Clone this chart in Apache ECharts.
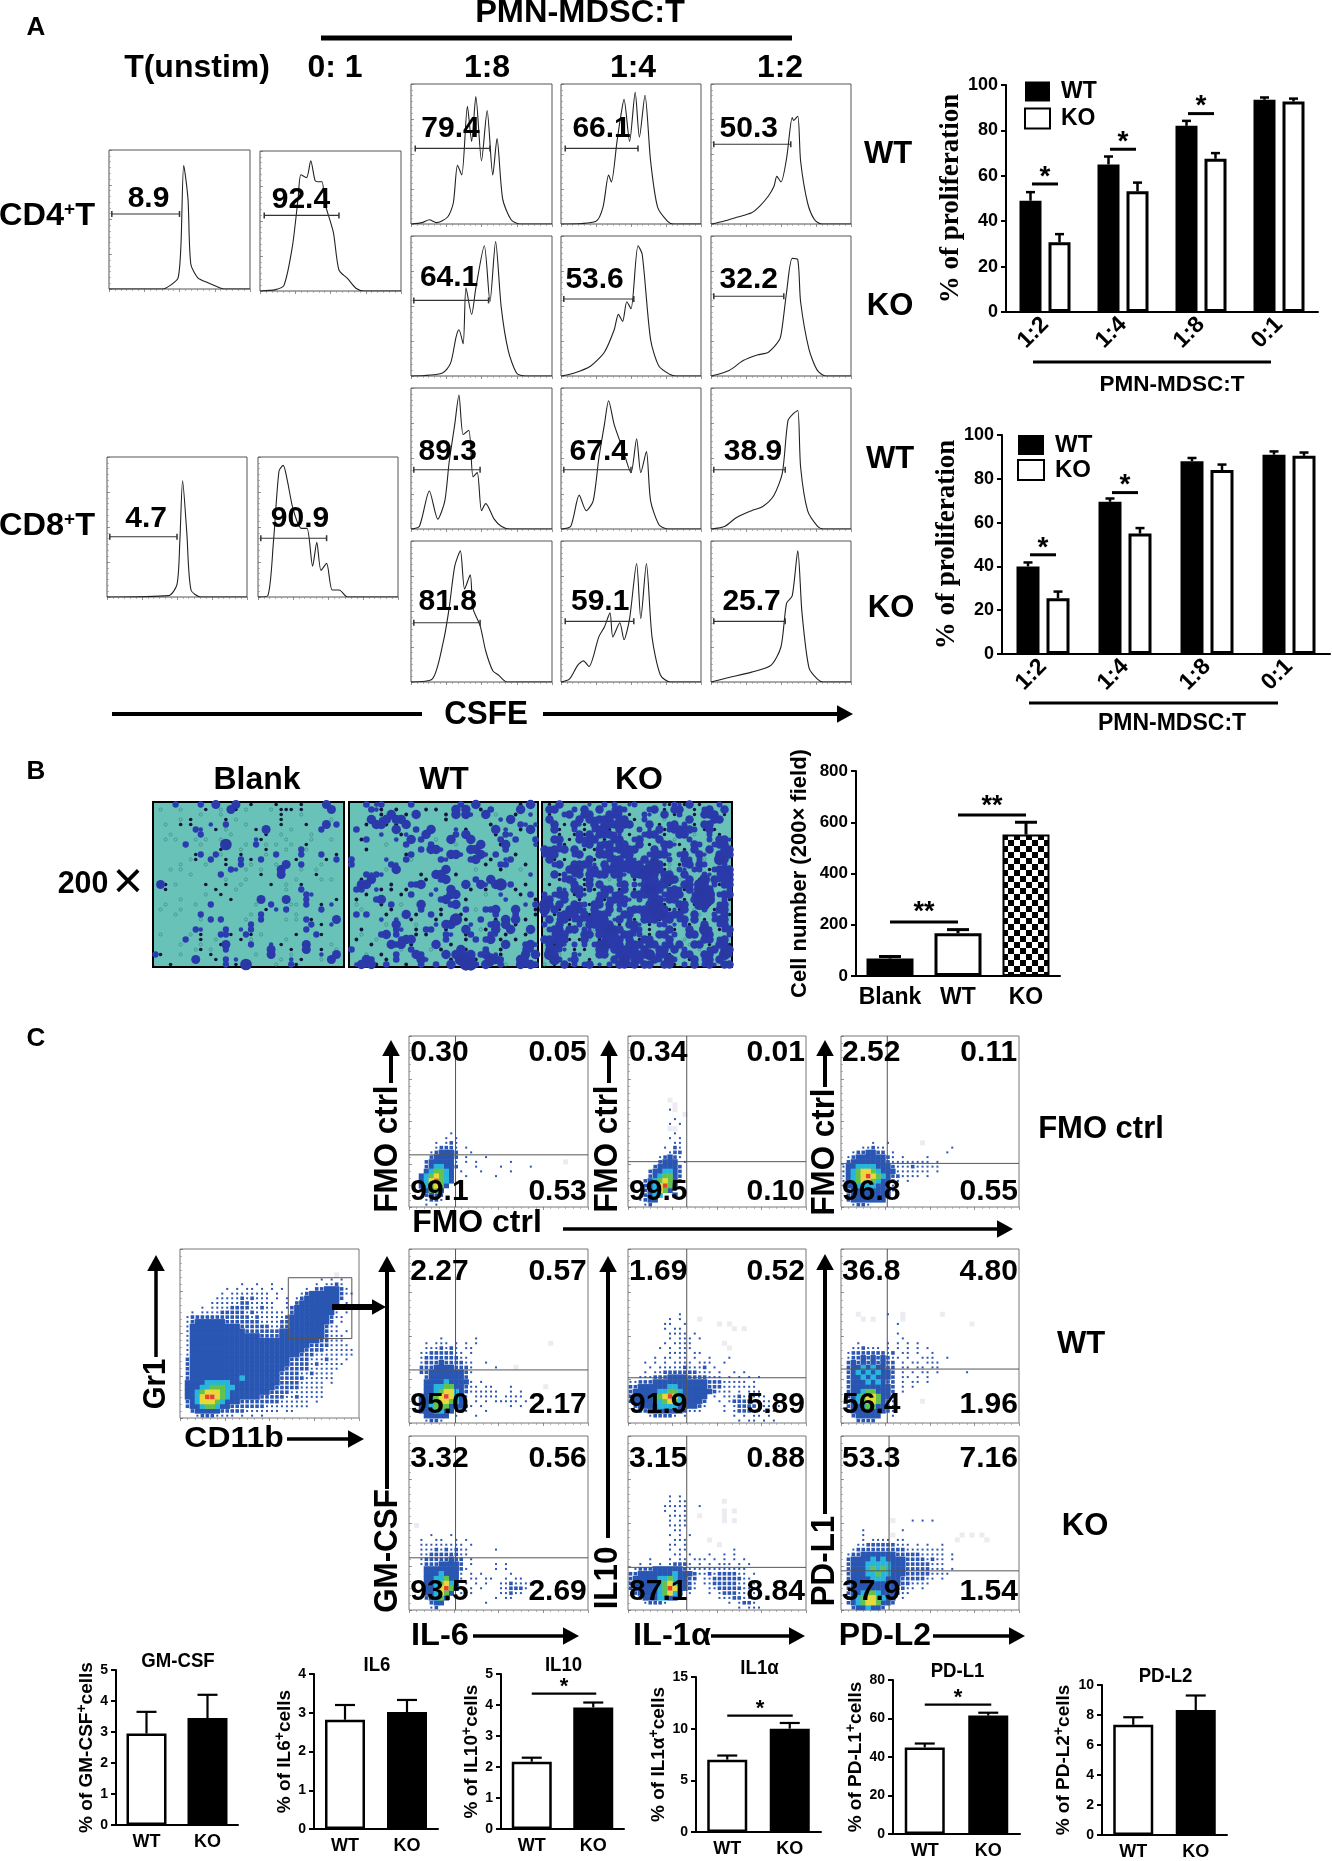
<!DOCTYPE html>
<html>
<head>
<meta charset="utf-8">
<title>PMN-MDSC</title>
<script src="https://cdn.jsdelivr.net/npm/echarts@6/dist/echarts.min.js"></script>
<style>
html,body{margin:0;padding:0;background:#fff}
#chart{width:1332px;height:1861px}
</style>
</head>
<body>
<div id="chart"></div>
<script>
/* ---------- panel A: CFSE histograms, [x %, height %] ---------- */
var histCd4Unstim = [[0,0],[38,0],[44,3],[49,8],[51,31],[53,89],[56,65],[58,18],[63,8],[69,5],[76,2],[82,0],[100,0]];
var histCd4Stim = [[0,0],[11,1],[17,4],[23,32],[27,66],[29,83],[33,81],[36,93],[39,79],[41,78],[44,78],[46,63],[52,42],[56,15],[62,9],[68,2],[74,0],[100,0]];
var histCd8Unstim = [[0,0],[44,1],[50,9],[52,39],[54,83],[57,46],[60,5],[67,0],[100,0]];
var histCd8Stim = [[0,0],[7,1],[11,39],[15,90],[18,94],[21,83],[25,63],[31,49],[35,49],[39,22],[42,39],[45,19],[49,24],[53,5],[58,5],[64,0],[100,0]];
var histCd4Wt18 = [[0,0],[8,1],[13,3],[18,1],[26,5],[30,15],[33,42],[36,35],[40,84],[43,59],[46,91],[50,45],[54,81],[58,35],[61,61],[65,18],[71,3],[77,0],[100,0]];
var histCd4Wt14 = [[0,0],[25,2],[30,12],[34,35],[36,30],[40,59],[43,79],[45,89],[49,59],[53,94],[56,62],[60,92],[64,45],[69,12],[76,2],[80,0],[100,0]];
var histCd4Wt12 = [[0,0],[9,2],[19,5],[29,8],[35,13],[41,20],[45,27],[47,34],[50,30],[54,47],[58,76],[59,74],[62,77],[64,45],[69,15],[74,3],[79,0],[100,0]];
var histCd4Ko18 = [[0,0],[22,2],[28,9],[32,28],[34,33],[37,23],[39,63],[43,44],[46,63],[52,93],[56,53],[60,96],[64,49],[69,18],[75,2],[81,0],[100,0]];
var histCd4Ko14 = [[0,0],[9,2],[21,7],[31,17],[38,33],[41,44],[44,39],[47,53],[50,48],[55,93],[58,87],[64,26],[70,7],[78,1],[82,0],[100,0]];
var histCd4Ko12 = [[0,0],[13,4],[23,11],[33,15],[41,17],[49,26],[51,36],[54,60],[58,84],[62,83],[64,53],[70,19],[76,4],[82,0],[100,0]];
var histCd8Wt18 = [[0,0],[6,2],[13,27],[19,7],[24,20],[27,47],[31,74],[34,95],[37,67],[41,70],[44,37],[47,40],[50,13],[53,18],[59,7],[64,2],[70,0],[100,0]];
var histCd8Wt14 = [[0,0],[7,2],[13,24],[18,13],[23,20],[27,50],[31,74],[34,91],[38,74],[44,57],[50,40],[54,64],[57,40],[61,55],[64,20],[70,3],[76,0],[100,0]];
var histCd8Wt12 = [[0,0],[10,2],[18,8],[29,13],[37,16],[45,24],[51,40],[55,77],[59,82],[62,84],[64,44],[69,13],[76,2],[80,0],[100,0]];
var histCd8Ko18 = [[0,0],[15,2],[23,29],[27,52],[31,82],[35,93],[38,66],[42,76],[44,52],[49,40],[53,22],[58,8],[62,5],[68,0],[100,0]];
var histCd8Ko14 = [[0,0],[6,2],[12,12],[16,15],[20,11],[27,32],[31,39],[35,49],[37,32],[42,42],[45,30],[49,45],[54,84],[57,45],[61,84],[65,32],[71,5],[78,0],[100,0]];
var histCd8Ko12 = [[0,0],[12,3],[29,7],[43,12],[50,25],[54,56],[58,61],[62,93],[65,49],[70,10],[76,2],[80,0],[100,0]];

var histCurves = [histCd4Unstim,histCd4Stim,histCd8Unstim,histCd8Stim,histCd4Wt18,histCd4Wt14,histCd4Wt12,histCd4Ko18,histCd4Ko14,histCd4Ko12,histCd8Wt18,histCd8Wt14,histCd8Wt12,histCd8Ko18,histCd8Ko14,histCd8Ko12];
var histValues = ['8.9','92.4','4.7','90.9','79.4','66.1','50.3','64.1','53.6','32.2','89.3','67.4','38.9','81.8','59.1','25.7'];
// gate: y, from, to; label x, label y
var histGates = [[54,2,50,28,65],[54,3,56,29,65],[43,2,50,28,56],[42,2,49,30,56],[54,3,56,28,68],[54,3,55,29,68],[57,2,57,27,68],[54,2,55,27,70],[55,2,52,24,69],[57,2,52,27,69],[42,2,49,26,55],[42,2,50,27,55],[42,2,53,30,55],[42,2,49,26,57],[43,3,52,28,57],[43,2,53,29,57]];

/* ---------- proliferation bars ---------- */
var ratioCats = ['1:2','1:4','1:8','0:1'];
var cd4Wt = [49,65,82,93.5], cd4WtErr = [52.8,68.5,84.2,94.5];
var cd4Ko = [30.7,53.2,67.5,92.7], cd4KoErr = [34.3,57,70,94];
var cd4Sig = [[0,0,56.4],[1,1,71.7],[2,2,87.4]];
var cd8Wt = [40,69.5,88,91], cd8WtErr = [41.8,71,89.5,92.5];
var cd8Ko = [25.5,55,84,90.5], cd8KoErr = [28.5,57.5,86.5,92];
var cd8Sig = [[0,0,45.3],[1,1,73.7]];

/* ---------- panel B ---------- */
var migrationCats = ['Blank','WT','KO'];
var migrationVals = [68,167,552];
var migrationErr = [76,181,600];
var migrationSig = [[0,1,211],[1,2,628]];

/* micrographs: - none, o ring, : dark dot, s small cell, x cell, X big cell, @ very big cell */
var microBlank = [
"----x----x--X---X--:----:----:----X---",
"-o---o----:--o-X:-o----o-:::-:-----X--",
"---------o---o-----------:---o--------",
"-----o-:------:-o--------:---------o--",
"--o--:-:---s--x---o------:----:---X-x-",
"--------xs--:-o-----:-X----o-----x----",
"---o-----x-----o------:--o-----o------",
"--o-o---o-o--o------s:----o----o---o--",
"------x--o----@---o-x-o-o--o--:-------",
"-------------:---o----:---o--xo-------",
"--------:x--xo---:----o-x----x---x--:-",
"-------o:--x--:--x-:-x------:-----:-x-",
"-----o----o---:--x-o----o-X--x---o----",
"---o-o---------xs-o--o---X---o--o-----",
"-------o-----x-------:---X------:-----",
"--------------o---o---------o----o-o--",
"-X:-o-----:---:--o-----:--o--:--------",
"--:---------:---o---------o--x--------",
"----------o--:----------------xs------",
"-----o---------:-----X----X---x-----:-",
"--o-----o--x--------o--x---oo-x--:-s--",
"-o---o----------------:-s-x------x----",
"----o----x---------o-x------o---------",
"---------o-x-x----o--x----o-o-x:----X-",
"-------------------x-----------x-:-s--",
"--------xs----x--s-x----------x-------",
"-o-----o-:---xx:--x:-o------:---x:----",
"------x--:--o----:-o------o-----------",
"-----o---o---:X----x---s-:----X----o--",
"--------o:-o--x--------X---:--X--:--o-",
"x:---o-----:--------o--X---o-----s--X-",
"--------X---:-x-s--------o-s-:---o-X--",
"---:----------x-:-@-----o--x:---------"];

var microWt = [
"---x-sx-----x---------x--X--------:-X-",
"----xs:--:-----:-:---X-X--:-x-----X---",
"------:-X--:-X-----:-X-Xs--X-o---:--s-",
"----X-sX-XX--------:----------s-X-----",
"---:-XX:-:-X----------------:-----xs-s",
"-x-------X---x--X----s-:-----X-s--:-X-",
"------s---:s---X-----x-X-----:-xs-----",
"--:x-----s--X-x--o--X---X-----x--x---x",
"-------o---x----x----o----X---:X-----s",
"---:----------x-XXs-----XX-----x------",
"-----------:x-------XXs---Xs-x---:----",
"x------s---xo-----xs----xX--:--sx-----",
"x-------xs-----------------:--xx---:--",
"-------o-X---------X-----o----:---o---",
"---xsxs-------:--XX--:--------------s-",
"--:-X----------:--xX-----x--X---------",
"--XX----:---xxX--------X--Xs-X@-x--:--",
"-xx--s:-:--:-----s--X---:--:-----:----",
"---:------:-x---s---XX-----o--s---:-x-",
"-:---xX-----------xX---:-------s-----:",
"-o----:-x-o---X-----xX-------------s-x",
"--o-----:-----x---:----x-o-xxX---X---:",
"-x-x---:---X-:--x-:---:------x---x---:",
"------s--s--:----:---@-:--x--:-X-X-:--",
"-------o-X---o---s-XX---s---xX-X-:----",
"--:------xs--:-xx--:---X--o:-X--X---X-",
"--o---xX-x---:-:---xs--:x---xs-:---:--",
"-:---o----xXX------x---:-x-xX-:--:----",
"----:---XxX-:----X--:----------X---xXs",
"x---------o-x---o-:---X:---x--:----xx-",
"---o--:--x---Xx----X-X-xX-xX-s:----X-X",
"---Xx--:-x----Xs----:-@XX:--@Xx---Xx--",
"-sXxX:-x---:--x--x--X--@@x-Xs-xo--XxXx"];

var microKo = [
"-:-X-----s--x-x--sx-----s:xs:X-:---x--",
"-XX---x-X--X--xXx----xX-:-XX--:-xX--X-",
"-:--xX--XX---XXx-:--xs--X-:x--:-XXX-:-",
"-X-----X-XxXXX-XX-:-x---o----X----XX--",
"--X-:-Xs:-X-XXXXXX---X-:-xX-x-:-XX----",
"--X:--x-:-xXX:-X---x-s-X:xXXXXx-:X:---",
"---:--:X:X-XXXxs-:--xXX-:--XX-o--x-:--",
"--XX-:-XxXX-:-XX--xX---X--o--x---x-XXs",
"---x:---xX-xXX-XX--X-:--XXs:--Xx--xXX-",
"XxXxX-X-:-:X-XxXXXX---X-x---:-X--X--XX",
"xXX---xX---XXX--XX---xXXXs-xX--Xs--XXX",
"-X:-:----X:--xXX-Xs-X-X--x--Xx-xo--@X-",
"--xX--XXXxs-X-XXXXXX-X@X:o-:xX-Xx---x-",
"-----X@X-xX-xXXXxXXXX@@X:o-xs-xx-:xXXX",
"--X:x-xX-XxXX-XXs-XX@XX-XX--X---xs-xXX",
"---:xXs-:X---o-x--:-xXX-X@Xo-X-:@-XxXX",
"-:----X-:X-X---xX-xsXXXXX:--XX-@X-x:XX",
"---xs-XX:x:-XX-:X-:-X@XX-xXx:X-@@X---x",
"x-xXX-:Xs--xX-xX--XXXXX-xXXX--x@@@-xXX",
"xX--X--:---X:xXXXs-x-sXXsXX-:-X@@@--x:",
"@X-X--Xxx:XX-X-xx----X@X:--XX-:@@:-xX-",
"@-X:-XXXs-X--X-x-xXXXX@XX:s:X-o-x-:XX-",
"x-:xXXX-X:XXXs--XX--XXX@XxXX--Xo--x-X:",
"-X-xX:xXsXXXX-sX-x:-XXX:xX-xX-X-:-xXX-",
"x--X-:-xoXXXXX-:-XXs-:-xx-s-x:--X--xX-",
"-xXX-XX-xsoXX@XX--Xx-:---X:--X--@x-:xX",
"--xXX---XXoXXXX-XXsx-:-XX-x--XX-xX---x",
"XXXXX:-:Xo-:xXXX-X-:XX---X--o---XX-xX-",
"-X:Xs-x-x-xX@XXX-XXX-XX-xX-X-oXX-:-XX:",
"-XXxs-:-:--XX-XXXXX-X--XX-X-x--o-xX-XX",
"-@Xo--xs---XX--XXXXXX@-XX:--XX--XX--@x",
"--@x-sX--:----X-@-XX--Xx-@x--:X-xX-X--",
"o-:-X:x-xX-s-x-XXxX-XX--XX:-x-X-xXs-XX"];

/* ---------- panel C: density, rows top to bottom and ending at the
   bottom of the plot. 1,2 speckle, 3 blue, 4 cyan, 5 green, 6 yellow, 7 red, p pale ---------- */
var densGr1 = [
"....................................",
"....................................",
"....................................",
"....................................",
"....................................",
"...............................p....",
"............................1.1.1...",
"............1..1..1........1.1121...",
".........1.1.11.1.1.1....1.2233321..",
"........1.11111111.1....12333333211.",
".......11111212111.1.1.1233333332...",
"......1111112211111..1.233333333.1..",
"....1.1111222211211..12333333332.1..",
"..1.11112222212111111.2333333331.1..",
".12222222222221211111233333333211...",
".123333332222222111122333333332.1...",
".1333333333322222211223333333211....",
".1333333333332222222333333333211.1..",
".13333333333333322223333333332111...",
".13333333333333333333333333322111...",
".133333333333333333333333322221111..",
".1333333333333333333333332222111111.",
".1333333333333333333333322211111111.",
".2333333333333333333332222111211.1..",
".23333333333333333333322221211111...",
".2333333333333333333322222111111....",
".233333333333333333322221121111.....",
".233333333334333333322222111111.....",
".3333444443333333333222211111.1.....",
".3334455544333333332222211111.......",
".3345666543333333322221111111.......",
".3346776543333332222211211111.......",
".2346665433322222222111111.1........",
".2334554332222222111111111..........",
"..233333222221111111.11.............",
"...12221111.1.1.1..................."];
var densFmo1 = [
"........1...........................",
".......1.1..........................",
".....1.121..........................",
".....12221.1........................",
"....123332..1.......................",
"....233332.1...1....................",
"...2333331.1.1......1..........p....",
"...2344332...1....1.....1...........",
"...345543.1...1.....1...............",
"..3456543..1.....1..................",
"..3467543.1.........................",
"..345653............................",
"..23553.............................",
"...2322.............................",
"...1221.............................",
"...1.1.............................."];
var densFmo2 = [
"........p...........................",
".........p..........................",
"........1p..........................",
"...........p........................",
".........1..........................",
"........1.1.........................",
"........pp..........................",
".........1..........................",
"........1.1.........................",
".........11.........................",
".......1.21.........................",
"........122.........................",
"......12321.........................",
"......2333.1........................",
".....233332.........................",
"....2334432.........................",
"....2345532.........................",
"...23456532.........................",
"...2346753..........................",
"...234653...........................",
"..12344..3..........................",
"..1233..............................",
"...12..............................."];
var densFmo3 = [
"......1..1......p...................",
"....11211.............1.............",
"..1223322.1..........1..............",
".1233333321.1....1..................",
".23333333211111111.1................",
"13344443332111211111................",
"134566543331111111.1................",
"1345676543221111.1..................",
"134566543321.1......................",
"13344443321.........................",
".2333333331.........................",
".233333333..........................",
".23333333...........................",
"..1221.............................."];
var densIl6Wt = [
"......1......1......................",
"...1.111.1.1.1..............p.......",
"...1112121.11.......................",
"..112222211.1.......................",
"..1222222211........................",
"..12223222211..1....................",
"..22233332221....1...p..............",
"..22333333321.......................",
"...233333332........................",
"...3333433331.1.....................",
"...33445533211.11...1......p........",
"...334566432111111..1.1.............",
"..3345676431.11111.1111.............",
"..3345665431.1.1.11111.1............",
"..33455533321.1.....1.1.............",
"..3334433.21...1....................",
"...33333.1...1......................",
"...1221............................."];
var densIl1Wt = [
"..........1.........................",
"........1.1...p.....................",
".......11..1......p.p...............",
".......1.11..........p.p............",
"........1111.1......................",
"........1.111.1.....................",
".......1.1111......p................",
"......1.1.111.......p...............",
"........1111.11.....................",
".....1.11.11.1..1...1...............",
"...1.1.1.1111.111..1................",
"....1.1111121112.1..................",
"...1.112222222111.1..1.1............",
"..11122233332222111.1.1.1.1.........",
"112223333333333322211111.1..........",
"22333333443333332221111111..........",
"233333445543333332111.1.111.........",
"2333345676433333.1.111211111........",
"2333344565433332..1.122221111.......",
".233334444333321...1.1222211111.....",
"..2233333332111....1.122211111......",
"....122221.1.........1.1.11.1.......",
"......................1.11.1.1......"];
var densPdWt = [
"...p.....1..p.......p...............",
"....p.p.....p.......................",
"...........1..............p.........",
"....................................",
"...........1........................",
"............1.......................",
"...1.....1.1.1.1....................",
"..112111.1.1.1.1.1..................",
".1222222212.11.1..1.................",
".12232323211.1..111..1..............",
".2323232322.1.11.111................",
".2334343322.11.11.11................",
".2343434332.1.1.11.1.....1..........",
".2334343332.11.1.1..................",
".2333434322.1.11.1..................",
".2333333332.1.1.....................",
".2334553332.1.......................",
".2345665332.........................",
".2345665321.....p...................",
".2334553321.........................",
".2333333321.........................",
"..233333..1.........................",
"...2222............................."];
var densIl6Ko = [
".p..................................",
"....................................",
"....1...1...........................",
"..1..11..1.1........................",
"..111111111.1.......................",
"..1112121211.....1..................",
"..1122222211........................",
"..122222322.1.......................",
"..122233332.1....1.1................",
"...333333321.....1.1................",
"...33343331.1.1.....1...............",
"...33445331.11.11..1.11.............",
"...3345643.1.1.1..1121111...........",
"...3346753..1.1...112221............",
"...334653.1.1.....11211.............",
"...23453.........1.11...............",
"....233........1....................",
"....12.............................."];
var densIl1Ko = [
"........1.1.........................",
"........1.11.......p................",
".......11111..1.....................",
".......1.1.1.......p.p..............",
"........1111..p....p................",
"........1.11.......p.p..............",
"........1111........................",
".........11.........................",
"........1.1.1.......................",
".........111....p...................",
"........11.1......p.................",
"........1.11.........1..............",
".........11.1...1..1.1..............",
"....1...1.11.111.1.1.1.1............",
"..1.1.1.12221.1.1.111.1.1...........",
".12223333332111111111111............",
"223333333433321121222211.1..........",
"23333344543322.1122222211...........",
"23333345643321.112222211.1..........",
"23333345763321..11222221111.........",
".2333345643.1...1.12221111..........",
"..233344331.......11122111..........",
"...12221............1.1221..........",
"......................1.111........."];
var densPdKo = [
"..........p...1.1.1.................",
"....................................",
"....1.......1.......................",
"....1.....p.............p.p.p.......",
"....1.1111.11..........p.....p......",
"...11222222111.1.1..1...............",
"..1222222222211111111...............",
".12233333332222211111.1.............",
".23333434333322221211.1.............",
".23334444433322222111...............",
".23334545433322222111.1.............",
".233344544333222221111..............",
".233334443332222211.1...............",
".23333333333221111..................",
".23333333332211.1...................",
".2334554333211......................",
".2345665433.1.......................",
".2345665332.........................",
"..2334332..........................."];

var flowDensity = [densFmo1,densFmo2,densFmo3,densIl6Wt,densIl1Wt,densPdWt,densIl6Ko,densIl1Ko,densPdKo];
// quadrant values: upper left, upper right, lower left, lower right
var flowValues = [
  ['0.30','0.05','99.1','0.53'],['0.34','0.01','99.5','0.10'],['2.52','0.11','96.8','0.55'],
  ['2.27','0.57','95.0','2.17'],['1.69','0.52','91.9','5.89'],['36.8','4.80','56.4','1.96'],
  ['3.32','0.56','93.5','2.69'],['3.15','0.88','87.1','8.84'],['53.3','7.16','37.9','1.54']];
var flowQuadX = [26,33,26,26,33,26,26,33,27];
var flowQuadY = [30.5,26.5,25.5,30.5,26,31,30,24.5,22.5];

/* ---------- panel C summary bars ---------- */
var wtKoCats = ['WT','KO'];
var summaryNames = ['GM-CSF','IL6','IL10','IL1α','PD-L1','PD-L2'];
var summaryVals = [[2.95,3.45],[2.82,3.02],[2.17,3.92],[7,10],[45,61.5],[7.35,8.33]];
var summaryErr = [[3.65,4.2],[3.2,3.33],[2.3,4.08],[7.4,10.55],[47,63],[7.85,9.3]];
var summaryMax = [5,4,5,15,80,10];
var summaryStep = [1,1,1,5,20,2];
var summarySig = [[],[],[[0,1,4.37]],[[0,1,11.27]],[[0,1,67.2]],[]];

/* ---------- layout, pixels ---------- */
var histRects = [[109,150,250,289],[260,151,401,291],[107,457,247,597],[258,457,398,597]];
var colX = [[411,552],[561,701],[711,851]], rowY = [[84,224],[236,376],[388,529],[541,682]];
rowY.forEach(function (r) { colX.forEach(function (c) { histRects.push([c[0],r[0],c[1],r[1]]); }); });
var flowCols = [[409,588],[628,806],[841,1019]], flowRows = [[1036,1207],[1249,1423],[1436,1610]];
var microRects = [[153,802,344,967],[349,802,538,967],[542,802,732,967]];
var summaryRects = [[116,1670,238,1825],[314,1674,438,1829],[501,1674,624,1829],[696,1677,821,1832],[893,1680,1020,1834],[1102,1685,1227,1836]];
var summaryGap = [15,14,17,20,19,27];

var SANS = '"Liberation Sans", Arial, sans-serif';
var SERIF = '"Liberation Serif", "Times New Roman", serif';

var grids = [], xAxes = [], yAxes = [], series = [], gfx = [];

function addGrid(r, extra, x, y) {
    grids.push(Object.assign({left:r[0], top:r[1], width:r[2]-r[0], height:r[3]-r[1]}, extra));
    var i = grids.length - 1;
    xAxes.push(Object.assign({gridIndex:i}, x));
    yAxes.push(Object.assign({gridIndex:i}, y));
    return i;
}

function text(str, x, y, size, opt) {
    opt = opt || {};
    gfx.push({type:'text', x:x, y:y, rotation:opt.rot||0, scaleX:opt.sx||1, scaleY:opt.sy||1, z:20,
        style:{text:str, fill:'#000', font:(opt.weight||'bold')+' '+size+'px '+(opt.family||SANS),
            textAlign:'center', textVerticalAlign:'middle', rich:opt.rich}});
}

// line with a triangle head at the (x2,y2) end
function arrow(x1, y1, x2, y2, w, head) {
    var dx = x2-x1, dy = y2-y1, len = Math.sqrt(dx*dx+dy*dy), ux = dx/len, uy = dy/len;
    gfx.push({type:'line', z:15, shape:{x1:x1,y1:y1,x2:x2-ux*head,y2:y2-uy*head}, style:{stroke:'#000', lineWidth:w}});
    gfx.push({type:'polygon', z:15, shape:{points:[[x2,y2],[x2-ux*head-uy*head*.55,y2-uy*head+ux*head*.55],[x2-ux*head+uy*head*.55,y2-uy*head-ux*head*.55]]}, style:{fill:'#000'}});
}
function rule(x1, y1, x2, y2, w) {
    gfx.push({type:'line', z:15, shape:{x1:x1,y1:y1,x2:x2,y2:y2}, style:{stroke:'#000', lineWidth:w}});
}

function panelAxes(showMinor) {
    var tick = {show:true, length:3, lineStyle:{color:'#666', width:.7}};
    return {
        x:{type:'value', min:0, max:100, interval:25, axisLabel:{show:false}, splitLine:{show:false},
            axisLine:{show:false}, axisTick:tick, minorTick:{show:showMinor, splitNumber:6, length:2, lineStyle:{color:'#888', width:.6}}},
        y:{type:'value', min:0, max:100, interval:25, axisLabel:{show:false}, splitLine:{show:false},
            axisLine:{show:false}, axisTick:Object.assign({inside:true}, tick), minorTick:{show:showMinor, splitNumber:6, length:2, lineStyle:{color:'#888', width:.6}}}
    };
}

var valueLabel = {show:true, position:'inside', formatter:'{b}', color:'#000', fontFamily:SANS, fontWeight:'bold', fontSize:30};

/* ---------- histograms ---------- */
histCurves.forEach(function (curve, k) {
    var a = panelAxes(true);
    var i = addGrid(histRects[k], {show:true, backgroundColor:'#fff', borderColor:'#555', borderWidth:1}, a.x, a.y);
    var g = histGates[k];
    series.push({type:'line', xAxisIndex:i, yAxisIndex:i, data:curve, showSymbol:false, smooth:.25, silent:true,
        lineStyle:{color:'#222', width:1.1}, z:3});
    series.push({type:'line', xAxisIndex:i, yAxisIndex:i, data:[[g[1],g[0]],[g[2],g[0]]], symbol:'rect', symbolSize:[1.5,6], silent:true,
        itemStyle:{color:'#333'}, lineStyle:{color:'#333', width:1.1}, z:4});
    series.push({type:'scatter', xAxisIndex:i, yAxisIndex:i, symbolSize:1, silent:true, itemStyle:{color:'transparent', opacity:1}, z:6,
        data:[{value:[g[3],g[4]], name:histValues[k]}], label:valueLabel});
});

/* ---------- error bars and significance brackets ---------- */
function errorSeries(i, cats, vals, errs, shift, capHalf, w) {
    return {type:'custom', xAxisIndex:i, yAxisIndex:i, silent:true, z:5, clip:false,
        data:vals.map(function (v, c) { return [c, v, errs[c]]; }),
        renderItem:function (p, api) {
            var a = api.coord([api.value(0), api.value(1)]), b = api.coord([api.value(0), api.value(2)]);
            var x = a[0] + shift, st = {stroke:'#000', lineWidth:w};
            return {type:'group', children:[
                {type:'line', shape:{x1:x,y1:a[1],x2:x,y2:b[1]}, style:st},
                {type:'line', shape:{x1:x-capHalf,y1:b[1],x2:x+capHalf,y2:b[1]}, style:st}
            ]};
        }};
}
function sigSeries(i, rows, pad, mark, size, lift, w, pad2) {
    return {type:'custom', xAxisIndex:i, yAxisIndex:i, silent:true, z:5, clip:false, data:rows,
        renderItem:function (p, api) {
            var a = api.coord([api.value(0), api.value(2)]), b = api.coord([api.value(1), api.value(2)]);
            var x1 = a[0]-pad, x2 = b[0]+(pad2===undefined?pad:pad2);
            return {type:'group', children:[
                {type:'line', shape:{x1:x1,y1:a[1],x2:x2,y2:a[1]}, style:{stroke:'#000', lineWidth:w}},
                {type:'text', x:(x1+x2)/2, y:a[1]-lift, style:{text:mark, fill:'#000', font:'bold '+size+'px '+SANS, textAlign:'center', textVerticalAlign:'middle'}}
            ]};
        }};
}
function barAxes(cats, max, step, name, gap, nameStyle, labelStyle, tickSize) {
    return {
        x:{type:'category', data:cats, axisLine:{lineStyle:{color:'#000', width:2}}, axisTick:{alignWithLabel:true, length:5, lineStyle:{color:'#000', width:2}},
            axisLabel:Object.assign({color:'#000', fontFamily:SANS, fontWeight:'bold', interval:0}, labelStyle)},
        y:{type:'value', min:0, max:max, interval:step, splitLine:{show:false}, name:name, nameLocation:'middle', nameRotate:90, nameGap:gap,
            nameTextStyle:nameStyle, axisLine:{show:true, lineStyle:{color:'#000', width:2}}, axisTick:{show:true, length:5, lineStyle:{color:'#000', width:2}},
            axisLabel:{color:'#000', fontFamily:SANS, fontWeight:'bold', fontSize:tickSize, margin:8}}
    };
}

function proliferation(rect, wt, wtErr, ko, koErr, sig, barW, gap, nameGap) {
    var a = barAxes(ratioCats, 100, 20, '% of proliferation', nameGap,
        {color:'#000', fontFamily:SERIF, fontWeight:'bold', fontSize:27},
        {rotate:45, fontSize:23, margin:9}, 18);
    var i = addGrid(rect, {}, a.x, a.y);
    var shift = (barW+gap)/2;
    series.push({type:'bar', name:'WT', xAxisIndex:i, yAxisIndex:i, data:wt, barWidth:barW, barGap:(gap/barW*100)+'%', silent:true, itemStyle:{color:'#000'}});
    series.push({type:'bar', name:'KO', xAxisIndex:i, yAxisIndex:i, data:ko, barWidth:barW, silent:true, itemStyle:{color:'#fff', borderColor:'#000', borderWidth:3}});
    series.push(errorSeries(i, ratioCats, wt, wtErr, -shift, 4.5, 2.5));
    series.push(errorSeries(i, ratioCats, ko, koErr, shift, 4.5, 2.5));
    series.push(sigSeries(i, sig, 13, '*', 28, 7, 3));
}
proliferation([1006,85,1318,312], cd4Wt, cd4WtErr, cd4Ko, cd4KoErr, cd4Sig, 22, 7, 33);
proliferation([1002,435,1330,654], cd8Wt, cd8WtErr, cd8Ko, cd8KoErr, cd8Sig, 23, 7, 38);

/* ---------- panel B micrographs ---------- */
var microKinds = [
    {ch:'o', size:3.5, fill:'transparent', line:'#3c8f8c', w:.8},
    {ch:':', size:4, fill:'#12163f'},
    {ch:'s', size:5, fill:'#2b3fae'},
    {ch:'x', size:7, fill:'#2a3cb0'},
    {ch:'X', size:10, fill:'#2b3aaa'},
    {ch:'@', size:13, fill:'#2a38a4'}];
var microScale = [.9,.95,.85];
[microBlank, microWt, microKo].forEach(function (map, k) {
    var i = addGrid(microRects[k], {show:true, backgroundColor:'#69c2b7', borderColor:'#000', borderWidth:2},
        {type:'value', min:0, max:38, show:false}, {type:'value', min:0, max:33, inverse:true, show:false});
    microKinds.forEach(function (kind) {
        var pts = [];
        map.forEach(function (row, r) {
            for (var c = 0; c < row.length; c++) if (row[c] === kind.ch) pts.push([c+.5, r+.5]);
        });
        series.push({type:'scatter', xAxisIndex:i, yAxisIndex:i, data:pts, symbolSize:kind.size*microScale[k], silent:true,
            itemStyle:{color:kind.fill, opacity:1, borderColor:kind.line||kind.fill, borderWidth:kind.w||0}});
    });
});

/* migration bars, KO is drawn with a checker pattern */
var checker = document.createElement('canvas');
checker.width = checker.height = 12;
(function () {
    var c = checker.getContext('2d');
    c.fillStyle = '#fff'; c.fillRect(0,0,12,12);
    c.fillStyle = '#000'; c.fillRect(0,0,6,6); c.fillRect(6,6,6,6);
})();
(function () {
    var a = barAxes(migrationCats, 800, 200, 'Cell number (200× field)', 45,
        {color:'#000', fontFamily:SANS, fontWeight:'bold', fontSize:22},
        {fontSize:23, margin:10}, 17);
    var i = addGrid([856,771,1060,976], {}, a.x, a.y);
    var fills = [{color:'#000'}, {color:'#fff', borderColor:'#000', borderWidth:3}, {color:{image:checker, repeat:'repeat'}, borderColor:'#000', borderWidth:2}];
    series.push({type:'bar', xAxisIndex:i, yAxisIndex:i, barWidth:47, silent:true,
        data:migrationVals.map(function (v, c) { return {value:v, itemStyle:fills[c]}; })});
    series.push(errorSeries(i, migrationCats, migrationVals, migrationErr, 0, 11, 3));
    series.push(sigSeries(i, migrationSig, 0, '**', 27, 9, 3));
})();

/* ---------- flow plots ---------- */
var densColor = {'1':'#2b56b3','2':'#2b56b3','3':'#2956b3','4':'#27b5dd','5':'#63c24c','6':'#e7d93a','7':'#e8402a','p':'#ecebf1'};
var densSize = {'1':2,'2':3.6,'3':5.4,'4':5.4,'5':5.4,'6':5.4,'7':4.5,'p':5};
function densitySeries(i, map) {
    var pts = [];
    map.forEach(function (row, r) {
        for (var c = 0; c < row.length && c < 36; c++) {
            if (row[c] !== '.') pts.push({value:[(c+.5)/36*100, (map.length-r-.5)/36*100], level:row[c],
                symbolSize:densSize[row[c]], itemStyle:{color:densColor[row[c]], opacity:1}});
        }
    });
    // low levels first so the hot core stays on top
    pts.sort(function (a, b) { return (a.level==='p'?0:+a.level) - (b.level==='p'?0:+b.level); });
    return {type:'scatter', xAxisIndex:i, yAxisIndex:i, symbol:'rect', silent:true, data:pts, z:2};
}

flowDensity.forEach(function (map, k) {
    var row = Math.floor(k/3), r = flowRows[row], c = flowCols[k%3];
    var a = panelAxes(true);
    var i = addGrid([c[0],r[0],c[1],r[1]], {show:true, backgroundColor:'#fff', borderColor:'#777', borderWidth:1}, a.x, a.y);
    series.push(densitySeries(i, map));
    var lineOpt = {type:'line', xAxisIndex:i, yAxisIndex:i, showSymbol:false, silent:true, lineStyle:{color:'#555', width:1}, z:3};
    series.push(Object.assign({}, lineOpt, {data:[[flowQuadX[k],0],[flowQuadX[k],100]]}));
    series.push(Object.assign({}, lineOpt, {data:[[0,flowQuadY[k]],[100,flowQuadY[k]]]}));
    var v = flowValues[k], top = row ? 87 : 90, low = row ? 10.5 : 9;
    series.push({type:'scatter', xAxisIndex:i, yAxisIndex:i, symbolSize:1, silent:true, itemStyle:{color:'transparent', opacity:1}, z:6,
        data:[{value:[17,top],name:v[0]},{value:[83,top],name:v[1]},{value:[17,low],name:v[2]},{value:[83,low],name:v[3]}],
        label:valueLabel});
});
(function () {
    var a = panelAxes(true);
    var i = addGrid([180,1249,359,1418], {show:true, backgroundColor:'#fff', borderColor:'#777', borderWidth:1}, a.x, a.y);
    series.push(densitySeries(i, densGr1));
    series.push({type:'line', xAxisIndex:i, yAxisIndex:i, data:[[60.5,47],[60.5,83],[96,83],[96,47],[60.5,47]], showSymbol:false, silent:true, lineStyle:{color:'#555', width:1}, z:3});
})();

/* ---------- summary bars ---------- */
summaryVals.forEach(function (vals, k) {
    var nm = '% of ' + summaryNames[k] + '{s|+}cells';
    var a = barAxes(wtKoCats, summaryMax[k], summaryStep[k], nm, summaryGap[k],
        {color:'#000', fontFamily:SANS, fontWeight:'bold', fontSize:19,
         rich:{s:{fontFamily:SANS, fontWeight:'bold', fontSize:14, color:'#000', padding:[0,0,9,0]}}},
        {fontSize:18, margin:8}, 14);
    var i = addGrid(summaryRects[k], {}, a.x, a.y);
    series.push({type:'bar', xAxisIndex:i, yAxisIndex:i, barWidth:40, silent:true,
        data:vals.map(function (v, c) {
            return {value:v, itemStyle:c===0 ? {color:'#fff', borderColor:'#000', borderWidth:2.5} : {color:'#000'}};
        })});
    series.push(errorSeries(i, wtKoCats, vals, summaryErr[k], 0, 10, 2.2));
    if (summarySig[k].length) series.push(sigSeries(i, summarySig[k], 0, '*', 22, 7, 2.2, 3));
    var r = summaryRects[k];
    text(summaryNames[k], (r[0]+r[2])/2+1, r[1]-9, 20, {sx:.93});
});

/* ---------- text and arrows ---------- */
text('A', 36, 28, 26);
text('B', 36, 772, 26);
text('C', 36, 1039, 26);

text('PMN-MDSC:T', 580, 13, 31, {sx:1.05});
rule(321, 38, 792, 38, 5);
text('T(unstim)', 197, 68, 32);
text('0: 1', 335, 68, 32);
text('1:8', 487, 68, 32);
text('1:4', 633, 68, 32);
text('1:2', 780, 68, 32);
[['WT',888,154],['KO',890,306],['WT',890,459],['KO',891,608]].forEach(function (l) { text(l[0], l[1], l[2], 31); });
var cdRich = {a:{font:'bold 31px '+SANS, fill:'#000'}, s:{font:'bold 18px '+SANS, fill:'#000', padding:[0,0,12,0]}};
text('{a|CD4}{s|+}{a|T}', 47, 216, 31, {rich:cdRich, sx:1.05});
text('{a|CD8}{s|+}{a|T}', 47, 526, 31, {rich:cdRich, sx:1.05});
text('CSFE', 486, 715, 33, {sx:.95});
rule(112, 714, 422, 714, 4);
arrow(543, 714, 853, 714, 4, 16);

rule(1033, 362, 1271, 362, 3);
text('PMN-MDSC:T', 1172, 385, 22.5);
rule(1029, 703, 1278, 703, 3);
text('PMN-MDSC:T', 1172, 724, 23);

text('Blank', 257, 780, 31, {sx:1.03});
text('WT', 444, 780, 31, {sx:1.03});
text('KO', 639, 780, 31, {sx:1.03});
text('200', 83, 884, 32, {sx:.95});
text('×', 128, 884, 52, {weight:'normal'});

text('FMO ctrl', 388, 1149, 33, {rot:Math.PI/2, sx:.95});
text('FMO ctrl', 608, 1149, 33, {rot:Math.PI/2, sx:.95});
text('FMO ctrl', 825, 1152, 33, {rot:Math.PI/2, sx:.95});
arrow(391, 1083, 391, 1040, 4, 16);
arrow(609, 1083, 609, 1040, 4, 16);
arrow(825, 1087, 825, 1040, 4, 16);
text('FMO ctrl', 477, 1223, 31, {sx:1.03});
arrow(563, 1229, 1013, 1229, 3.5, 16);

text('GM-CSF', 388, 1551, 33, {rot:Math.PI/2, sx:.95});
text('IL10', 608, 1578, 33, {rot:Math.PI/2, sx:.95});
text('PD-L1', 825, 1561, 33, {rot:Math.PI/2, sx:.95});
arrow(387, 1489, 387, 1256, 4, 16);
arrow(608, 1538, 608, 1256, 4, 16);
arrow(825, 1514, 825, 1254, 4, 16);
text('IL-6', 440, 1636, 31, {sx:1.05});
arrow(473, 1636, 579, 1636, 3.5, 16);
text('IL-1α', 672, 1636, 31, {sx:1.05});
arrow(711, 1636, 805, 1636, 3.5, 16);
text('PD-L2', 885, 1636, 31, {sx:1.03});
arrow(933, 1636, 1025, 1636, 3.5, 16);
text('Gr1', 156, 1384, 31, {rot:Math.PI/2, sx:.95});
arrow(156, 1357, 156, 1255, 3.5, 16);
text('CD11b', 234, 1439, 29, {sx:1.1});
arrow(287, 1439, 364, 1439, 3.5, 16);
arrow(332, 1307, 386, 1307, 6, 14);
text('FMO ctrl', 1101, 1129, 31);
text('WT', 1081, 1344, 31);
text('KO', 1085, 1526, 31);

var chart = echarts.init(document.getElementById('chart'), null, {width:1332, height:1861});
chart.setOption({
    animation:false,
    backgroundColor:'#fff',
    textStyle:{fontFamily:SANS},
    legend:[
        {data:['WT','KO'], orient:'vertical', left:1024, top:80, padding:0, icon:'rect', itemWidth:25, itemHeight:20, itemGap:4, selectedMode:false,
            textStyle:{color:'#000', fontFamily:SANS, fontWeight:'bold', fontSize:23, padding:[0,0,0,6]}},
        {data:['WT','KO'], orient:'vertical', left:1017, top:433, padding:0, icon:'rect', itemWidth:26, itemHeight:20, itemGap:1, selectedMode:false,
            textStyle:{color:'#000', fontFamily:SANS, fontWeight:'bold', fontSize:24, padding:[0,0,0,6]}}
    ],
    grid:grids, xAxis:xAxes, yAxis:yAxes, series:series, graphic:gfx
});
</script>
</body>
</html>
